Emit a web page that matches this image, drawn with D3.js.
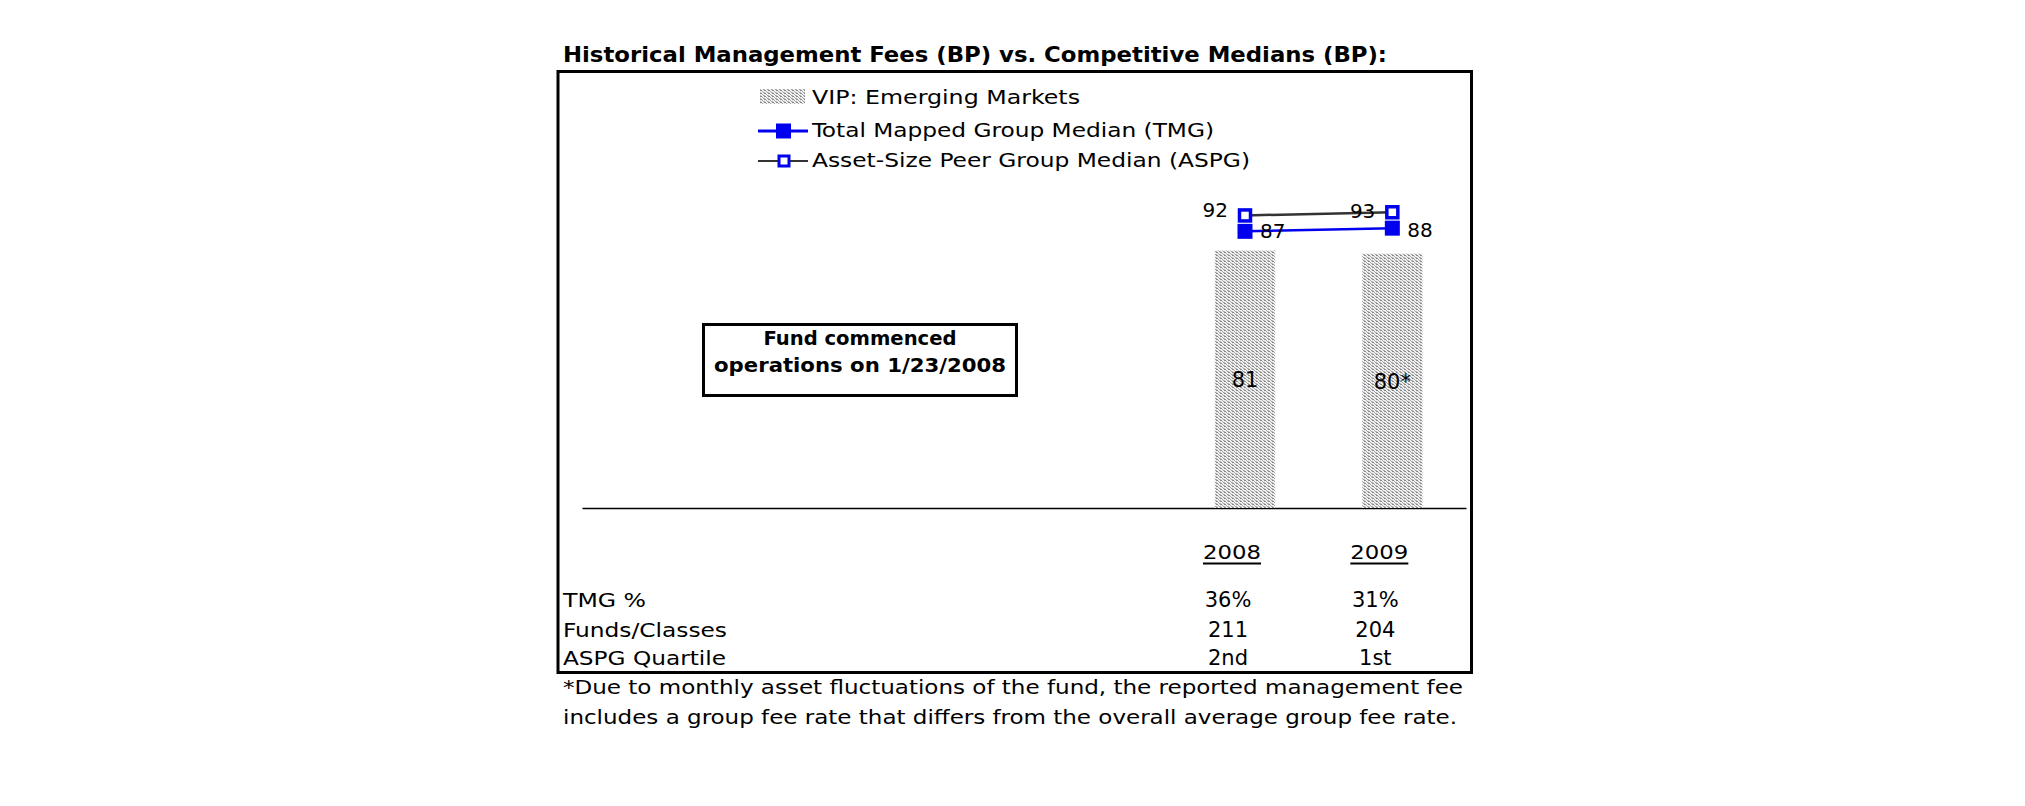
<!DOCTYPE html>
<html>
<head>
<meta charset="utf-8">
<script src="https://cdn.jsdelivr.net/npm/d3@7"></script>
<style>
  html, body { margin: 0; padding: 0; background: #fff; }
  svg { display: block; }
  text { font-family: "DejaVu Sans Condensed", "DejaVu Sans", Verdana, sans-serif; fill: #000; }
</style>
</head>
<body>
<svg id="chart" width="2025" height="806"></svg>
<script>
// ---- data ----
const slots = ["2004", "2005", "2006", "2007", "2008", "2009"];
const years = ["2008", "2009"];
const vipFees = [81, 80];
const vipLabels = ["81", "80*"];
const tmgMedian = [87, 88];
const aspgMedian = [92, 93];
const tableRowLabels = ["TMG %", "Funds/Classes", "ASPG Quartile"];
const tmgPct = ["36%", "31%"];
const fundsClasses = ["211", "204"];
const aspgQuartile = ["2nd", "1st"];
const legendLabels = ["VIP: Emerging Markets", "Total Mapped Group Median (TMG)", "Asset-Size Peer Group Median (ASPG)"];
const titleText = "Historical Management Fees (BP) vs. Competitive Medians (BP):";
const noteLines = ["Fund commenced", "operations on 1/23/2008"];
const footnoteLines = [
  "*Due to monthly asset fluctuations of the fund, the reported management fee",
  "includes a group fee rate that differs from the overall average group fee rate."
];

const BLUE = "#0000ee";
const GREY = "#333333";

const svg = d3.select("#chart");

// pattern for bars
const defs = svg.append("defs");
const pat = defs.append("pattern").attr("id", "dots")
  .attr("patternUnits", "userSpaceOnUse").attr("width", 4).attr("height", 3);
pat.append("rect").attr("width", 4).attr("height", 3).attr("fill", "#f0f0f0");
pat.append("rect").attr("x", 0).attr("y", 0).attr("width", 2).attr("height", 1).attr("fill", "#8a8a8a");
pat.append("rect").attr("x", 2).attr("y", 1).attr("width", 1).attr("height", 1).attr("fill", "#a8a8a8");
pat.append("rect").attr("x", 0).attr("y", 2).attr("width", 1).attr("height", 1).attr("fill", "#b4b4b4");
pat.append("rect").attr("x", 3).attr("y", 2).attr("width", 1).attr("height", 1).attr("fill", "#a0a0a0");

// scales
const x = d3.scaleBand().domain(slots).range([582, 1466]).paddingInner(0.59).paddingOuter(0.295);
const y = d3.scaleLinear().domain([0, 100]).range([508, 190]);
const cx = d => x(d) + x.bandwidth() / 2;

// title
svg.append("text").attr("x", 563).attr("y", 62)
  .attr("font-size", 21).attr("font-weight", "bold")
  .attr("textLength", 824).attr("lengthAdjust", "spacingAndGlyphs")
  .text(titleText);

// outer frame
svg.append("rect").attr("x", 558).attr("y", 71.5).attr("width", 913.5).attr("height", 601)
  .attr("fill", "none").attr("stroke", "#000").attr("stroke-width", 3);

// axis baseline via d3 axis (no ticks)
const axisG = svg.append("g").attr("transform", `translate(0,${y(0)})`)
  .call(d3.axisBottom(x).tickSize(0).tickFormat(""));
axisG.select(".domain").attr("stroke", "#000").attr("stroke-width", 1.5);

// bars
const barData = years.map((yr, i) => ({ yr, v: vipFees[i], lab: vipLabels[i] }));
svg.append("g").selectAll("rect").data(barData).join("rect")
  .attr("x", d => x(d.yr)).attr("width", x.bandwidth())
  .attr("y", d => y(d.v)).attr("height", d => y(0) - y(d.v))
  .attr("fill", "url(#dots)");
svg.append("g").selectAll("text").data(barData).join("text")
  .attr("x", d => cx(d.yr)).attr("y", d => (y(d.v) + y(0)) / 2 + 8)
  .attr("text-anchor", "middle").attr("font-size", 21)
  .style("font-family", "'DejaVu Sans', Verdana, sans-serif")
  .text(d => d.lab);

// lines
const tmgData = years.map((yr, i) => ({ yr, v: tmgMedian[i] }));
const aspgData = years.map((yr, i) => ({ yr, v: aspgMedian[i] }));
const line = d3.line().x(d => cx(d.yr)).y(d => y(d.v));

svg.append("path").datum(tmgData).attr("d", line)
  .attr("fill", "none").attr("stroke", BLUE).attr("stroke-width", 2.5);
svg.append("path").datum(aspgData).attr("d", line)
  .attr("fill", "none").attr("stroke", GREY).attr("stroke-width", 2.5);

// TMG markers (filled squares)
svg.append("g").selectAll("rect").data(tmgData).join("rect")
  .attr("x", d => cx(d.yr) - 7.5).attr("y", d => y(d.v) - 7.5)
  .attr("width", 15).attr("height", 15).attr("fill", BLUE);
// ASPG markers (open squares)
svg.append("g").selectAll("rect").data(aspgData).join("rect")
  .attr("x", d => cx(d.yr) - 5.5).attr("y", d => y(d.v) - 5.5)
  .attr("width", 11).attr("height", 11).attr("fill", "#fff")
  .attr("stroke", BLUE).attr("stroke-width", 3.5);

// point labels
const ptFont = "'DejaVu Sans', Verdana, sans-serif";
svg.append("g").selectAll("text").data(aspgData).join("text")
  .attr("x", d => cx(d.yr) - 17)
  .attr("y", (d, i) => y(d.v) + (i === 0 ? 2 : 6))
  .attr("text-anchor", "end").attr("font-size", 20)
  .style("font-family", ptFont)
  .text(d => d.v);
svg.append("g").selectAll("text").data(tmgData).join("text")
  .attr("x", d => cx(d.yr) + 15)
  .attr("y", (d, i) => y(d.v) + (i === 0 ? 7 : 9))
  .attr("text-anchor", "start").attr("font-size", 20)
  .style("font-family", ptFont)
  .text(d => d.v);

// legend
const lg = svg.append("g");
lg.append("rect").attr("x", 760).attr("y", 89).attr("width", 45).attr("height", 15).attr("fill", "url(#dots)");
lg.append("line").attr("x1", 758).attr("x2", 808).attr("y1", 131).attr("y2", 131)
  .attr("stroke", BLUE).attr("stroke-width", 3);
lg.append("rect").attr("x", 776).attr("y", 123.5).attr("width", 15).attr("height", 15).attr("fill", BLUE);
lg.append("line").attr("x1", 758).attr("x2", 808).attr("y1", 161).attr("y2", 161)
  .attr("stroke", GREY).attr("stroke-width", 2);
lg.append("rect").attr("x", 779).attr("y", 156).attr("width", 10).attr("height", 10)
  .attr("fill", "#fff").attr("stroke", BLUE).attr("stroke-width", 3);
const legendWidths = [268, 402, 438];
const legendBase = [104, 137, 167];
lg.selectAll("text.lt").data(legendLabels).join("text").attr("class", "lt")
  .attr("x", 812).attr("y", (d, i) => legendBase[i])
  .attr("font-size", 19)
  .attr("textLength", (d, i) => legendWidths[i]).attr("lengthAdjust", "spacingAndGlyphs")
  .text(d => d);

// annotation box
svg.append("rect").attr("x", 703.5).attr("y", 324.5).attr("width", 313).attr("height", 71)
  .attr("fill", "#fff").attr("stroke", "#000").attr("stroke-width", 3);
const noteWidths = [193, 292];
svg.append("g").selectAll("text").data(noteLines).join("text")
  .attr("x", 860).attr("y", (d, i) => 345 + i * 27)
  .attr("text-anchor", "middle").attr("font-size", 20).attr("font-weight", "bold")
  .attr("textLength", (d, i) => noteWidths[i]).attr("lengthAdjust", "spacingAndGlyphs")
  .text(d => d);

// year labels (underlined)
const yearG = svg.append("g").selectAll("g").data(years).join("g");
yearG.append("text")
  .attr("x", d => cx(d) - 13).attr("y", 559)
  .attr("text-anchor", "middle").attr("font-size", 20)
  .attr("textLength", 58).attr("lengthAdjust", "spacingAndGlyphs")
  .text(d => d);
yearG.append("line")
  .attr("x1", d => cx(d) - 13 - 29).attr("x2", d => cx(d) - 13 + 29)
  .attr("y1", 563.5).attr("y2", 563.5).attr("stroke", "#000").attr("stroke-width", 2);

// table
const tableRows = [tmgPct, fundsClasses, aspgQuartile];
const rowBase = [607, 637, 665];
const rowLabelWidths = [83, 164, 163];
svg.append("g").selectAll("text").data(tableRowLabels).join("text")
  .attr("x", 563).attr("y", (d, i) => rowBase[i])
  .attr("font-size", 20)
  .attr("textLength", (d, i) => rowLabelWidths[i]).attr("lengthAdjust", "spacingAndGlyphs")
  .text(d => d);
tableRows.forEach((row, r) => {
  svg.append("g").selectAll("text").data(row).join("text")
    .attr("x", (d, i) => cx(years[i]) - 17).attr("y", rowBase[r])
    .attr("text-anchor", "middle").attr("font-size", 21)
    .style("font-family", "'DejaVu Sans', Verdana, sans-serif")
    .text(d => d);
});

// footnote
const footWidths = [900, 894];
svg.append("g").selectAll("text").data(footnoteLines).join("text")
  .attr("x", 563).attr("y", (d, i) => 694 + i * 30)
  .attr("font-size", 20)
  .attr("textLength", (d, i) => footWidths[i]).attr("lengthAdjust", "spacingAndGlyphs")
  .text(d => d);
</script>
</body>
</html>
